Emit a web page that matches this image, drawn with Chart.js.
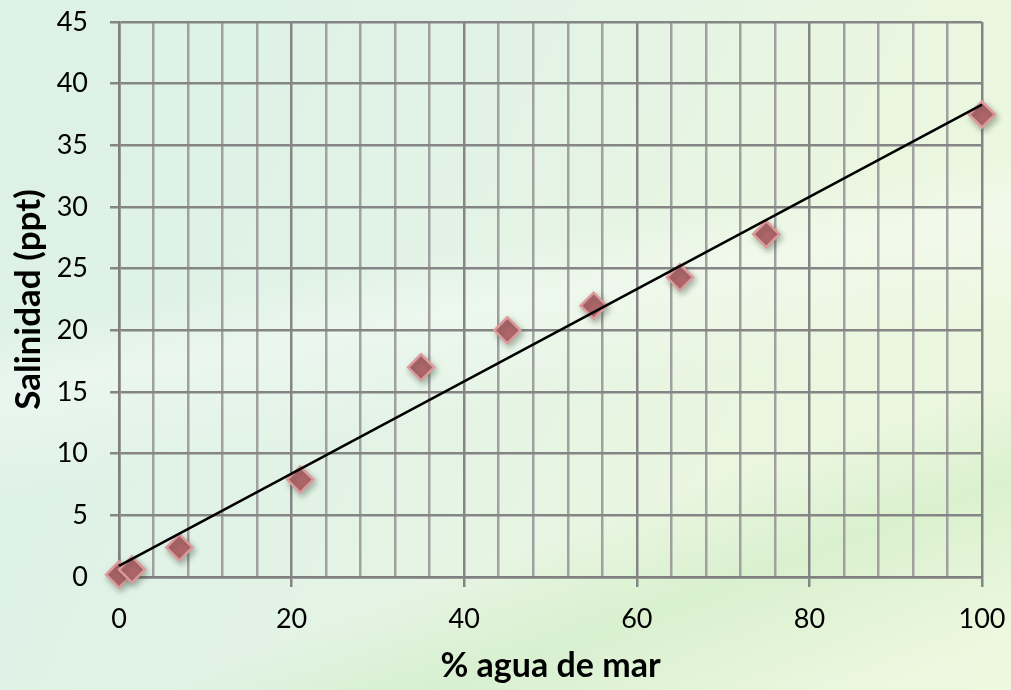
<!DOCTYPE html>
<html>
<head>
<meta charset="utf-8">
<script src="https://cdn.jsdelivr.net/npm/chart.js@4"></script>
<style>
  html, body { margin: 0; padding: 0; }
  body {
    width: 1011px; height: 690px; overflow: hidden;
    background:
      linear-gradient(170deg, rgba(255,255,255,0) 38%, rgba(255,255,255,0.35) 45%, rgba(255,255,255,0) 58%),
      linear-gradient(160deg, rgba(255,255,255,0) 70%, rgba(200,235,190,0.5) 80%, rgba(255,255,255,0) 95%),
      linear-gradient(115deg, #dcf1e8 0%, #e2f3e6 40%, #eaf6e0 70%, #eef8df 100%);
  }
  #wrap { position: relative; width: 1011px; height: 690px; }
</style>
</head>
<body>
<div id="wrap"><canvas id="chart" width="1011" height="690"></canvas></div>
<script>
// % agua de mar vs salinidad (ppt)
const seawaterPct = [0, 1.5, 7, 21, 35, 45, 55, 65, 75, 100];
const salinity = [0.2, 0.6, 2.4, 7.9, 17, 20, 22, 24.3, 27.8, 37.5];

// linear trend line at both ends
const trendX = [0, 100];
const trendY = [0.9, 38.3];

const xTitle = '% agua de mar';
const yTitle = 'Salinidad (ppt)';

const points = seawaterPct.map((x, i) => ({ x: x, y: salinity[i] }));
const trend = trendX.map((x, i) => ({ x: x, y: trendY[i] }));

// soft drop shadow under the diamonds
const shadowPlugin = {
  id: 'shadow',
  beforeDatasetDraw(chart, args) {
    if (args.index !== 1) return;
    const ctx = chart.ctx;
    ctx.save();
    ctx.shadowColor = 'rgba(40,60,40,0.35)';
    ctx.shadowBlur = 6;
    ctx.shadowOffsetX = 2;
    ctx.shadowOffsetY = 3;
  },
  afterDatasetDraw(chart, args) {
    if (args.index !== 1) return;
    chart.ctx.restore();
  }
};

const font = 'Lato, "Open Sans", sans-serif';

new Chart(document.getElementById('chart'), {
  type: 'scatter',
  data: {
    datasets: [
      {
        type: 'line',
        data: trend,
        borderColor: '#000',
        borderWidth: 2.5,
        pointRadius: 0,
        fill: false,
        clip: false,
        order: 0
      },
      {
        data: points,
        pointStyle: 'rectRot',
        pointRadius: 13,
        pointHoverRadius: 13,
        backgroundColor: '#b0666a',
        borderColor: '#dc9a9c',
        borderWidth: 2.5,
        clip: false,
        order: 1
      }
    ]
  },
  options: {
    responsive: false,
    animation: false,
    layout: { padding: { top: 22, right: 29, left: 0, bottom: 0 } },
    plugins: {
      legend: { display: false },
      tooltip: { enabled: false }
    },
    scales: {
      x: {
        type: 'linear',
        min: 0,
        max: 100,
        afterFit(scale) {
          scale.height = 113;
          scale.paddingLeft = 0;
          scale.paddingRight = 0;
        },
        ticks: {
          stepSize: 4,
          autoSkip: false,
          maxRotation: 0,
          padding: 16,
          color: '#000',
          font: { family: font, size: 27 },
          callback: v => (v % 20 === 0 ? v : '')
        },
        grid: {
          color: ctx => (ctx.tick && ctx.tick.value % 20 === 0 ? '#858585' : '#a0a0a0'),
          lineWidth: 2.5,
          tickLength: 10,
          tickColor: ctx => (ctx.tick && ctx.tick.value % 20 === 0 ? '#858585' : 'rgba(0,0,0,0)')
        },
        border: { color: '#808080', width: 2.5 },
        title: {
          display: true,
          text: xTitle,
          color: '#000',
          font: { family: font, size: 34, weight: 'bold' },
          padding: { top: 2 }
        }
      },
      y: {
        min: 0,
        max: 45,
        afterFit(scale) {
          scale.width = 119;
          scale.paddingTop = 0;
          scale.paddingBottom = 0;
        },
        ticks: {
          stepSize: 5,
          padding: 22,
          color: '#000',
          font: { family: font, size: 27 }
        },
        grid: {
          color: '#858585',
          lineWidth: 2.5,
          tickLength: 9,
          tickColor: '#858585'
        },
        border: { color: '#808080', width: 2.5 },
        title: {
          display: true,
          text: yTitle,
          color: '#000',
          font: { family: font, size: 35, weight: 'bold' },
          padding: { top: 8, bottom: 0 }
        }
      }
    }
  },
  plugins: [shadowPlugin]
});
</script>
</body>
</html>
